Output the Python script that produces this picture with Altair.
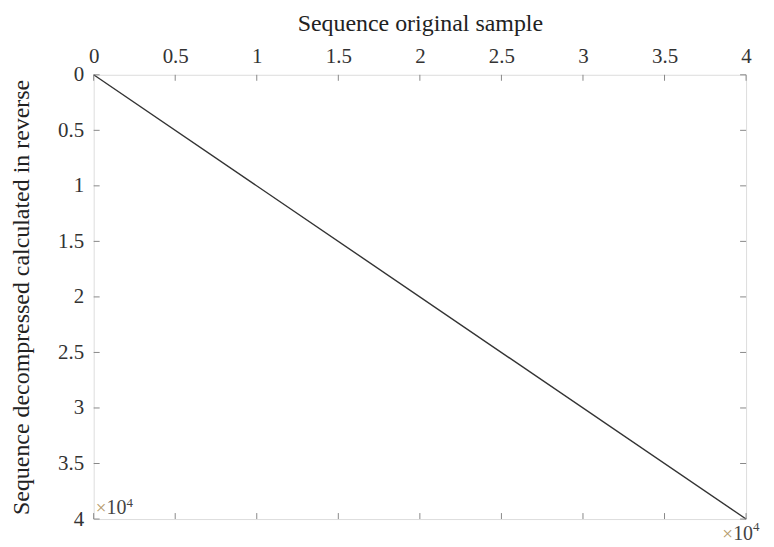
import altair as alt
import pandas as pd

# data
x_vals = [0, 40000]
y_vals = [0, 40000]
tick_vals = [0, 5000, 10000, 15000, 20000, 25000, 30000, 35000, 40000]

line_df = pd.DataFrame({"x": x_vals, "y": y_vals})
tick_df = pd.DataFrame({"t": tick_vals})

FONT = "Liberation Serif"
W, H = 655, 446

xs = alt.Scale(domain=[0, 40000], nice=False, zero=False)
ys = alt.Scale(domain=[0, 40000], nice=False, zero=False, reverse=True)

line = alt.Chart(line_df).mark_line(color="#333", strokeWidth=1.4).encode(
    x=alt.X("x:Q", scale=xs, axis=alt.Axis(
        orient="top", title="Sequence original sample", values=tick_vals,
        labelExpr="format(datum.value/10000, '~g')", ticks=False, grid=False,
        domain=False, labelPadding=8, titlePadding=10, labelFont=FONT,
        labelFontSize=21, labelColor="#333", titleFont=FONT, titleFontSize=24,
        titleFontWeight="normal", titleColor="#222", labelFlush=False)),
    y=alt.Y("y:Q", scale=ys, axis=alt.Axis(
        orient="left", title="Sequence decompressed calculated in reverse",
        values=tick_vals, labelExpr="format(datum.value/10000, '~g')",
        ticks=False, grid=False, domain=False, labelPadding=10, titlePadding=24,
        labelFont=FONT, labelFontSize=21, labelColor="#333", titleFont=FONT,
        titleFontSize=24, titleFontWeight="normal", titleColor="#222",
        labelFlush=False)),
)

tick_color = "#888"
top_ticks = alt.Chart(tick_df).mark_rule(color=tick_color).encode(
    x=alt.X("t:Q", scale=xs), y=alt.value(0), y2=alt.value(6))
bot_ticks = alt.Chart(tick_df).mark_rule(color=tick_color).encode(
    x=alt.X("t:Q", scale=xs), y=alt.value(H - 6), y2=alt.value(H))
left_ticks = alt.Chart(tick_df).mark_rule(color=tick_color).encode(
    y=alt.Y("t:Q", scale=ys), x=alt.value(0), x2=alt.value(6))
right_ticks = alt.Chart(tick_df).mark_rule(color=tick_color).encode(
    y=alt.Y("t:Q", scale=ys), x=alt.value(W - 6), x2=alt.value(W))

ann_df = pd.DataFrame({"x": [0, 40000], "y": [40000, 40000]})


def ann(row, text, size, color, baseline, dx, dy):
    return alt.Chart(ann_df.iloc[[row]]).mark_text(
        text=text, font=FONT, fontSize=size, color=color, align="left",
        baseline=baseline, dx=dx, dy=dy).encode(
        x=alt.X("x:Q", scale=xs), y=alt.Y("y:Q", scale=ys))


anns = [
    ann(0, "×", 19, "#b59a6a", "bottom", 2, -1),
    ann(0, "10", 20, "#444", "bottom", 13, -1),
    ann(0, "4", 13, "#444", "bottom", 33, -9),
    ann(1, "×", 19, "#b59a6a", "top", -24, 6),
    ann(1, "10", 20, "#444", "top", -13, 5),
    ann(1, "4", 13, "#444", "top", 7, 2),
]

chart = alt.layer(line, top_ticks, bot_ticks, left_ticks, right_ticks,
                  *anns).properties(
    width=W, height=H,
    autosize=alt.AutoSizeParams(type="none"),
    padding={"left": 86, "top": 66, "right": 20, "bottom": 25},
).configure_view(stroke="#888", strokeWidth=1.3).configure(background="white")

chart.save("out.html", embed_options={"renderer": "svg", "actions": False})
